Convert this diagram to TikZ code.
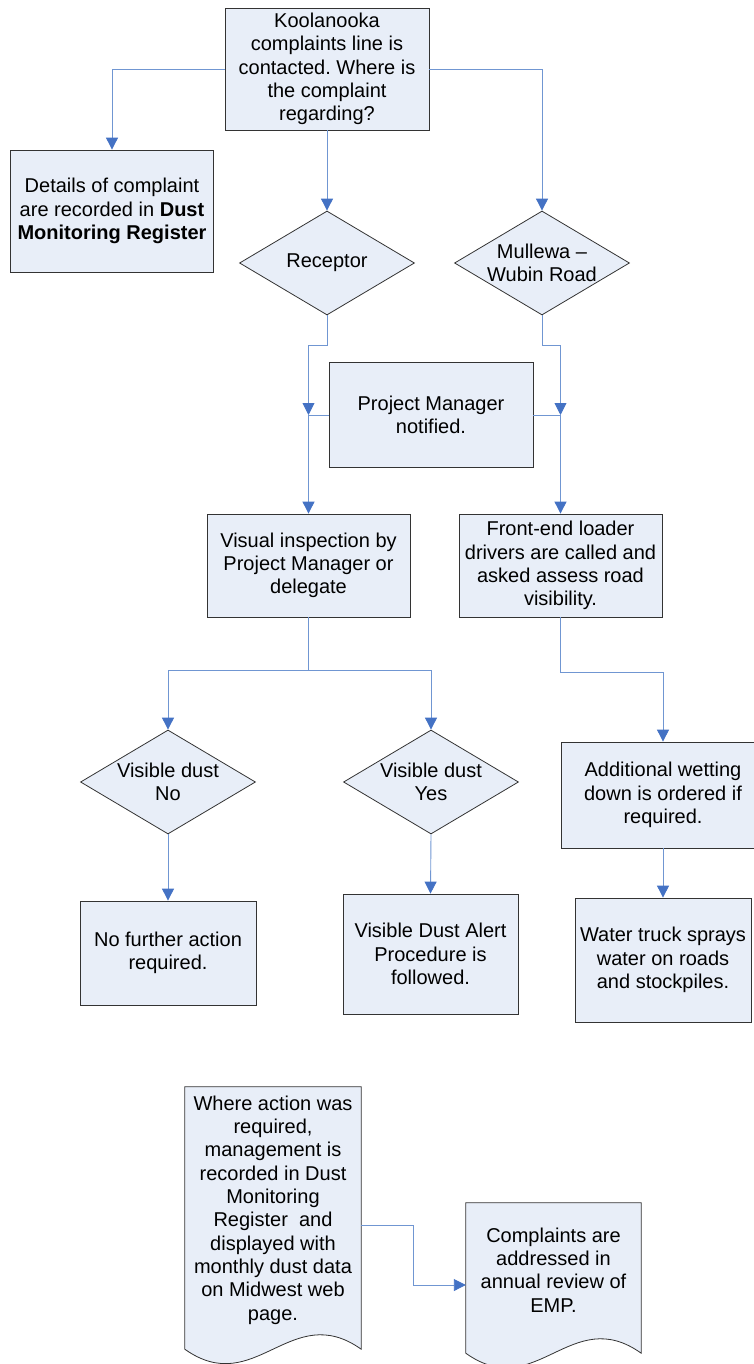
\documentclass[tikz,border=0pt]{standalone}
\usepackage{fontspec}
\setmainfont{Liberation Sans}
\usetikzlibrary{shapes.geometric,arrows.meta,backgrounds}
\definecolor{boxfill}{RGB}{232,238,248}
\definecolor{linkblue}{RGB}{112,150,210}
\definecolor{tipblue}{RGB}{68,114,196}
\frenchspacing
\begin{document}
\begin{tikzpicture}[x=1pt,y=-1pt,
    box/.style={draw=black!80, line width=0.8pt, fill=boxfill, inner sep=0pt, align=center,
        font=\fontsize{20}{23.3}\selectfont},
    decision/.style={box, diamond, aspect=1.7, inner xsep=-10pt, minimum width=175pt, minimum height=104pt},
    doc/.style={inner sep=0pt, align=center, font=\fontsize{20}{23.3}\selectfont},
    docline/.style={draw=black!80, line width=0.8pt, fill=boxfill},
    link/.style={draw=linkblue, line width=0.9pt, -{Triangle[length=12pt,width=12pt,color=tipblue]}},
    plain/.style={draw=linkblue, line width=0.9pt}]
    \useasboundingbox (0,0) rectangle (754,1364);

    % Top of the chart
    \node[box, minimum width=204pt, minimum height=122pt] (call) at (327,69)
        {Koolanooka\\complaints line is\\contacted. Where is\\the complaint\\regarding?};
    \node[box, minimum width=203pt, minimum height=122pt] (rec) at (112,211)
        {Details of complaint\\are recorded in \textbf{Dust}\\\textbf{Monitoring Register}};
    \node[decision] (recp) at (327,263) {Receptor};
    \node[decision] (road) at (542,263) {Mullewa --\\Wubin Road};

    % Middle row
    \node[box, minimum width=204pt, minimum height=105pt] (pm) at (431,415) {Project Manager\\notified.};
    \coordinate (jl) at (308.5,415);
    \coordinate (jr) at (560.5,415);
    \node[box, minimum width=203pt, minimum height=103pt] (insp) at (308.5,565.5)
        {Visual inspection by\\Project Manager or\\delegate};
    \node[box, minimum width=203pt, minimum height=103pt] (fel) at (560.5,565.5)
        {Front-end loader\\drivers are called and\\asked assess road\\visibility.};

    % Dust outcomes
    \node[decision] (dno) at (168,782) {Visible dust\\No};
    \node[decision] (dyes) at (431,782) {Visible dust\\Yes};
    \node[box, minimum width=176pt, minimum height=104pt] (noact) at (168,953) {No further action\\required.};
    \node[box, minimum width=175pt, minimum height=120pt] (alert) at (430.5,954)
        {Visible Dust Alert\\Procedure is\\followed.};
    \node[box, minimum width=204pt, minimum height=106pt] (wet) at (663,795)
        {Additional wetting\\down is ordered if\\required.};
    \node[box, minimum width=176pt, minimum height=124pt] (truck) at (663,960)
        {Water truck sprays\\water on roads\\and stockpiles.};

    % Documents
    \node[doc, minimum width=176pt, minimum height=246pt] (log) at (273,1210)
        {Where action was\\required,\\management is\\recorded in Dust\\Monitoring\\Register~ and\\displayed with\\monthly dust data\\on Midwest web\\page.};
    \node[doc, minimum width=175pt, minimum height=134pt] (emp) at (553.5,1270)
        {Complaints are\\addressed in\\annual review of\\EMP.};
    \begin{scope}[on background layer]
        \draw[docline] (log.north west) -- (log.north east) -- ([yshift=-16pt]log.south east)
            .. controls +(-70.4,-50) and +(70.4,50) .. ([yshift=-16pt]log.south west) -- cycle;
        \draw[docline] (emp.north west) -- (emp.north east) -- ([yshift=-16pt]emp.south east)
            .. controls +(-70,-50) and +(70,50) .. ([yshift=-16pt]emp.south west) -- cycle;
    \end{scope}

    % Connectors
    \draw[link] (call.west) -| (rec.north);
    \draw[link] (call.south) -- (recp.north);
    \draw[link] (call.east) -| (road.north);
    \draw[link] (recp.south) -- ++(0,30) -| (jl);
    \draw[link] (road.south) -- ++(0,30) -| (jr);
    \draw[link] (pm.west) -| (insp.north);
    \draw[link] (pm.east) -| (fel.north);
    \draw[link] (insp.south) -- ++(0,53) -| (dno.north);
    \draw[link] (insp.south) -- ++(0,53) -| (dyes.north);
    \draw[link] (fel.south) -- ++(0,55) -| (wet.north);
    \draw[link] (dno.south) -- (noact.north);
    \draw[link] (dyes.south) -- (alert.north);
    \draw[link] (wet.south) -- (truck.north);
    \draw[link] ([yshift=-15pt]log.east) -- ++(52,0) |- ([yshift=-15pt]emp.west);
\end{tikzpicture}
\end{document}
